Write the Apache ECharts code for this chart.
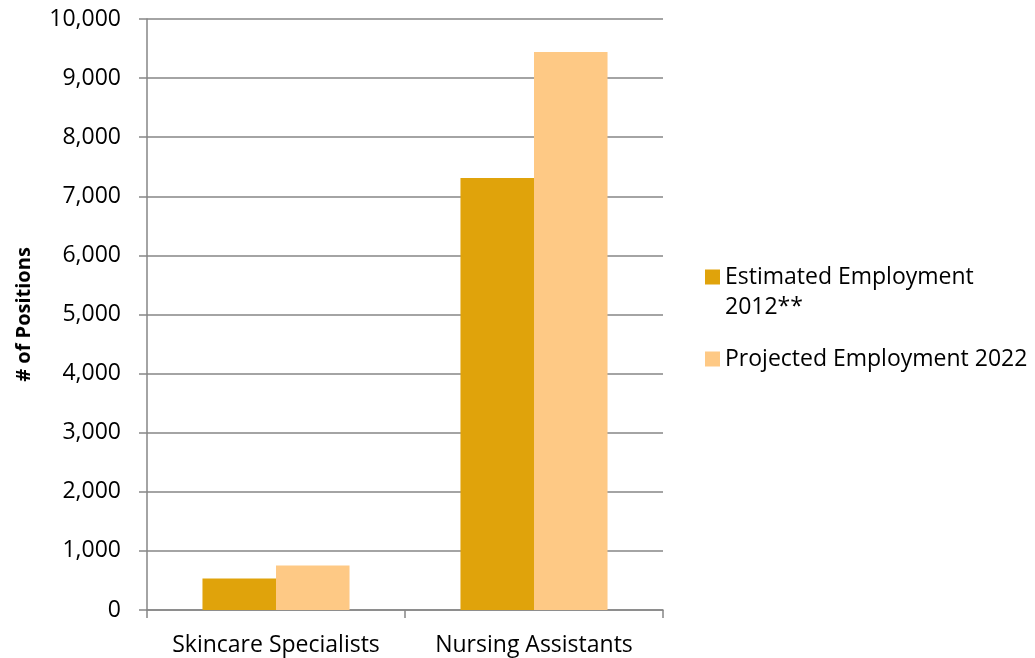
<!DOCTYPE html>
<html>
<head>
<meta charset="utf-8">
<script src="https://cdn.jsdelivr.net/npm/echarts@6/dist/echarts.min.js"></script>
<style>
  html, body { margin: 0; padding: 0; background: #fff; }
  #chart { width: 1035px; height: 658px; }
</style>
</head>
<body>
<div id="chart"></div>
<script>
// Occupations shown along the x axis
const categories = ['Skincare Specialists', 'Nursing Assistants'];
// Series names and their legend wording (leading blank line keeps the swatch beside the first line)
const seriesNames = ['Estimated Employment 2012**', 'Projected Employment 2022'];
const legendLabels = ['\nEstimated Employment\n2012**', 'Projected Employment 2022'];
// Number of positions per occupation
const estimated2012 = [535, 7310];
const projected2022 = [755, 9440];
// Y axis range and step
const yMin = 0, yMax = 10000, yStep = 1000;

const FONT = '"Open Sans", "Liberation Sans", sans-serif';
const GRID_COLOR = '#868686';
const COLORS = ['#E0A30B', '#FEC985'];
const LINE_H = 30;

const chart = echarts.init(document.getElementById('chart'), null, { renderer: 'canvas' });

const legendBase = {
  orient: 'vertical',
  left: 705,
  padding: 0,
  icon: 'rect',
  itemWidth: 15,
  itemHeight: 15,
  selectedMode: false,
  textStyle: { fontFamily: FONT, fontSize: 23, color: '#000', lineHeight: LINE_H }
};

chart.setOption({
  animation: false,
  color: COLORS,
  grid: { left: 147, right: 372, top: 19, bottom: 48, containLabel: false },
  legend: [
    Object.assign({}, legendBase, {
      top: 232,
      data: [seriesNames[0]],
      formatter: () => legendLabels[0]
    }),
    Object.assign({}, legendBase, {
      top: 344,
      data: [seriesNames[1]],
      formatter: () => legendLabels[1]
    })
  ],
  xAxis: {
    type: 'category',
    data: categories,
    axisLine: { show: true, lineStyle: { color: GRID_COLOR, width: 1.5 } },
    axisTick: { show: true, length: 8, interval: 0, lineStyle: { color: GRID_COLOR, width: 1.5 } },
    axisLabel: { margin: 24, fontFamily: FONT, fontSize: 23, color: '#000', interval: 0 },
    splitLine: { show: false }
  },
  yAxis: {
    type: 'value',
    min: yMin,
    max: yMax,
    interval: yStep,
    name: '# of Positions',
    nameLocation: 'middle',
    nameGap: 113,
    nameRotate: 90,
    nameTextStyle: { fontFamily: FONT, fontSize: 20, fontWeight: 'bold', color: '#000' },
    axisLine: { show: true, lineStyle: { color: GRID_COLOR, width: 1.5 } },
    axisTick: { show: true, length: 8, lineStyle: { color: GRID_COLOR, width: 1.5 } },
    axisLabel: {
      margin: 26,
      fontFamily: FONT,
      fontSize: 23,
      color: '#000',
      formatter: v => v.toLocaleString('en-US')
    },
    splitLine: { show: true, lineStyle: { color: GRID_COLOR, width: 1.5 } }
  },
  series: [
    {
      name: seriesNames[0],
      type: 'bar',
      data: estimated2012,
      barGap: '0%',
      barCategoryGap: '43%'
    },
    {
      name: seriesNames[1],
      type: 'bar',
      data: projected2022,
      barGap: '0%',
      barCategoryGap: '43%'
    }
  ]
});
</script>
</body>
</html>
